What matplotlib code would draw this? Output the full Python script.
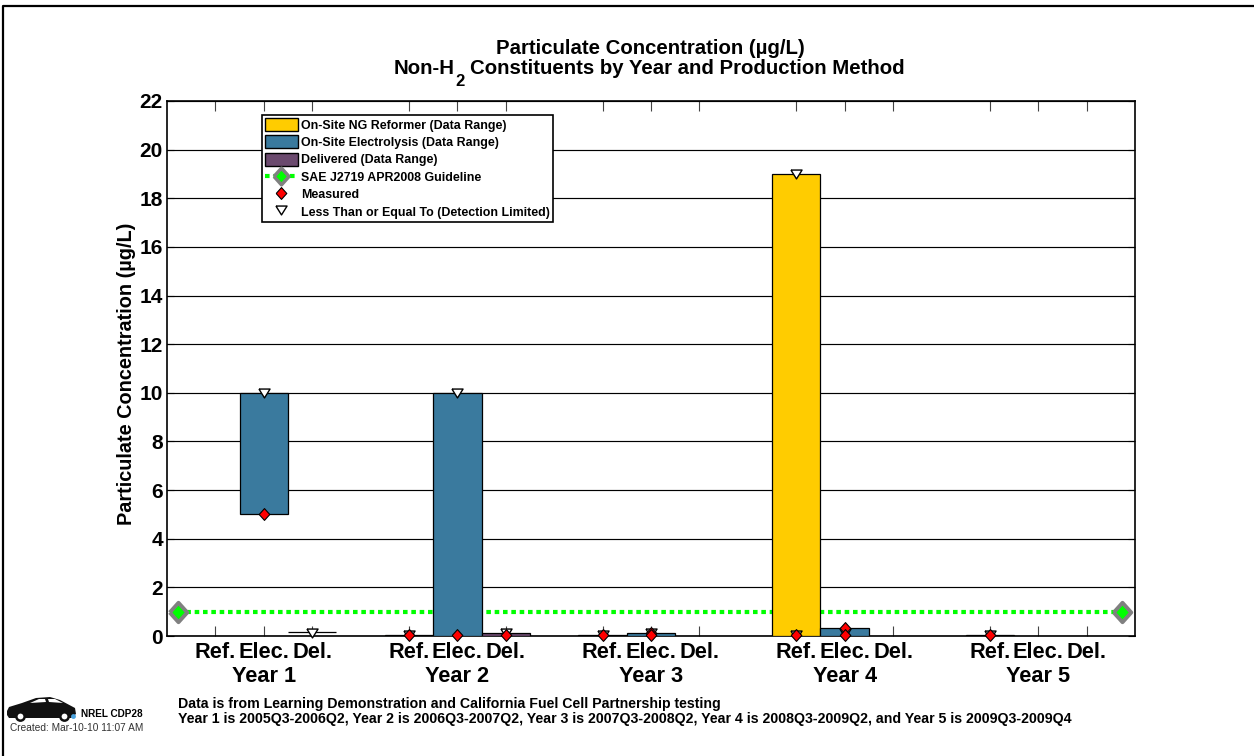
import matplotlib
matplotlib.use("Agg")
import matplotlib.pyplot as plt
from matplotlib.patches import Rectangle, Polygon
from matplotlib.lines import Line2D

plt.rcParams['font.family'] = ['Liberation Sans', 'DejaVu Sans']

YELLOW = '#FFCC00'
BLUE = '#3A7A9E'
PURPLE = '#6B4A6E'

years = ['Year 1', 'Year 2', 'Year 3', 'Year 4', 'Year 5']
methods = ['Ref.', 'Elec.', 'Del.']
method_colors = [YELLOW, BLUE, PURPLE]
positions = [1, 2, 3, 5, 6, 7, 9, 10, 11, 13, 14, 15, 17, 18, 19]

bar_pos = [2, 3, 5, 6, 7, 9, 10, 13, 14, 17]
bar_low = [5, 0.15, 0, 0, 0, 0, 0, 0, 0, 0]
bar_high = [10, 0.15, 0.03, 10, 0.13, 0.03, 0.13, 19, 0.32, 0.03]
bar_method = [1, 2, 0, 1, 2, 0, 1, 0, 1, 0]

measured_x = [2, 5, 6, 7, 9, 10, 10, 13, 14, 14, 17]
measured_y = [5, 0.03, 0.03, 0.03, 0.03, 0.13, 0.03, 0.03, 0.32, 0.03, 0.03]
limited_x = [2, 3, 5, 6, 7, 9, 10, 13, 13, 14, 17]
limited_y = [10, 0.13, 0.03, 10, 0.13, 0.03, 0.13, 19, 0.03, 0.13, 0.03]

guide_x = [0.23, 19.73]
guide_y = [1, 1]

yticks = list(range(0, 24, 2))

DIAMOND = [(-0.9, 0), (0, 1), (0.9, 0), (0, -1), (-0.9, 0)]
TRI = [(-1, 0.8), (1, 0.8), (0, -0.8), (-1, 0.8)]
DASH = (0, (1.1, 0.9))

W, H = 1254, 756
fig = plt.figure(figsize=(W / 100, H / 100), dpi=100, facecolor='white')
L, R, T, B = 167, 1135, 101, 636
ax = fig.add_axes([L / W, 1 - B / H, (R - L) / W, (B - T) / H])
ax.set_xlim(0, 20)
ax.set_ylim(0, 22)

# frame: left and top edges only
fig.add_artist(Line2D([3 / W, 3 / W, 1], [0, 1 - 6 / H, 1 - 6 / H], transform=fig.transFigure, color='black', lw=1.6))

ax.set_axisbelow(True)
ax.yaxis.grid(True, color='black', lw=0.85)
ax.set_yticks(yticks)
ax.set_xticks(positions)
ax.set_xticklabels(methods * len(years), fontsize=15.7, fontweight='bold')
ax.tick_params(axis='x', which='major', direction='in', length=7, width=0.8, top=True, bottom=True, color='#444444', pad=4)
ax.tick_params(axis='y', which='major', direction='in', length=5, width=0.8, left=True, right=True, pad=2.9)
for lab in ax.get_yticklabels():
    lab.set_fontsize(15)
    lab.set_fontweight('bold')
for s in ax.spines.values():
    s.set_linewidth(1.2)

for p, lo, hi, m in zip(bar_pos, bar_low, bar_high, bar_method):
    ax.bar(p, hi - lo, bottom=lo, width=1, color=method_colors[m], edgecolor='black', lw=0.9, zorder=3)

ax.plot(guide_x, guide_y, color='#00FF00', lw=3, ls=DASH, zorder=2.5, clip_on=False)
ax.plot(guide_x, guide_y, ls='none', marker=DIAMOND, ms=14, mfc='#00FF00', mec='#808080', mew=2.8, zorder=4, clip_on=False)
ax.plot(limited_x, limited_y, ls='none', marker=TRI, ms=8, mfc='white', mec='black', mew=1.0, zorder=5, clip_on=False)
ax.plot(measured_x, measured_y, ls='none', marker=DIAMOND, ms=8.5, mfc='red', mec='black', mew=0.8, zorder=6, clip_on=False)

for i, yr in enumerate(years):
    ax.text(2 + i * 4, -0.056, yr, transform=ax.get_xaxis_transform(), ha='center', va='top',
            fontsize=15.7, fontweight='bold')

fig.text(126 / W, 1 - 374 / H, 'Particulate Concentration (\u00b5g/L)', rotation=90, ha='center', va='center',
         fontsize=14.3, fontweight='bold')

# title, with the subscript set as its own text
TFS = 14.7
fig.text(650 / W, 1 - 48 / H, 'Particulate Concentration (\u00b5g/L)', ha='center', va='center', fontsize=TFS, fontweight='bold')
rend = fig.canvas.get_renderer()
x0 = 394
t1 = fig.text(x0 / W, 1 - 69 / H, 'Non-H', ha='left', va='center', fontsize=TFS, fontweight='bold')
w1 = t1.get_window_extent(rend).width
fig.text((x0 + w1 + 0.5) / W, 1 - 81 / H, '2', ha='left', va='center', fontsize=12, fontweight='bold')
fig.text((x0 + w1 + 15) / W, 1 - 69 / H, 'Constituents by Year and Production Method', ha='left', va='center', fontsize=TFS, fontweight='bold')

handles = [
    Rectangle((0, 0), 1, 1, fc=YELLOW, ec='black', lw=1),
    Rectangle((0, 0), 1, 1, fc=BLUE, ec='black', lw=1),
    Rectangle((0, 0), 1, 1, fc=PURPLE, ec='black', lw=1),
    Line2D([0], [0], color='#00FF00', lw=3, ls=DASH, marker=DIAMOND, ms=12, mfc='#00FF00', mec='#808080', mew=2.5),
    Line2D([0], [0], ls='none', marker=DIAMOND, ms=8.5, mfc='red', mec='black', mew=0.8),
    Line2D([0], [0], ls='none', marker=TRI, ms=8, mfc='white', mec='black', mew=1.0),
]
labels = ['On-Site NG Reformer (Data Range)', 'On-Site Electrolysis (Data Range)', 'Delivered (Data Range)',
          'SAE J2719 APR2008 Guideline', 'Measured', 'Less Than or Equal To (Detection Limited)']
leg = ax.legend(handles, labels, loc='upper left', bbox_to_anchor=((262 - L) / (R - L), 1 - (115 - T) / (B - T)),
                borderaxespad=0, prop={'size': 8.9, 'weight': 'bold'}, fancybox=False, framealpha=1,
                edgecolor='black', labelspacing=0.30, handlelength=2.65, handletextpad=0.3, borderpad=0.24, handleheight=1.25)
leg.get_frame().set_linewidth(1.2)
leg.set_zorder(10)

fig.text(178 / W, 1 - 704 / H, 'Data is from Learning Demonstration and California Fuel Cell Partnership testing',
         ha='left', va='center', fontsize=10.2, fontweight='bold')
fig.text(178 / W, 1 - 719 / H,
         'Year 1 is 2005Q3-2006Q2, Year 2 is 2006Q3-2007Q2, Year 3 is 2007Q3-2008Q2, Year 4 is 2008Q3-2009Q2, and Year 5 is 2009Q3-2009Q4',
         ha='left', va='center', fontsize=10.2, fontweight='bold')
fig.text(81 / W, 1 - 714 / H, 'NREL CDP28', ha='left', va='center', fontsize=7.2, fontweight='bold')
fig.text(10 / W, 1 - 728 / H, 'Created: Mar-10-10 11:07 AM', ha='left', va='center', fontsize=7.3, color='#333333')

# car icon
def px(pts):
    return [(x / W, 1 - y / H) for x, y in pts]
car = [(7, 711), (9, 707), (22, 703), (36, 698), (50, 697), (60, 700), (75, 708), (76, 714), (71, 718), (9, 718), (7, 715)]
fig.add_artist(Polygon(px(car), closed=True, transform=fig.transFigure, fc='#111111', ec='none'))
for win in ([(30, 703), (39, 699), (45, 699), (46, 702)], [(48, 699), (55, 699), (63, 703), (49, 702)]):
    fig.add_artist(Polygon(px(win), closed=True, transform=fig.transFigure, fc='white', ec='none'))
for cx in (20, 64):
    fig.add_artist(Line2D([cx / W], [1 - 716 / H], marker='o', ms=6, mfc='white', mec='#111111', mew=1.8, transform=fig.transFigure))
fig.add_artist(Line2D([73 / W], [1 - 716 / H], marker='o', ms=3.5, mfc='#4aa3df', mec='none', transform=fig.transFigure))

fig.savefig('out.png', dpi=100)
